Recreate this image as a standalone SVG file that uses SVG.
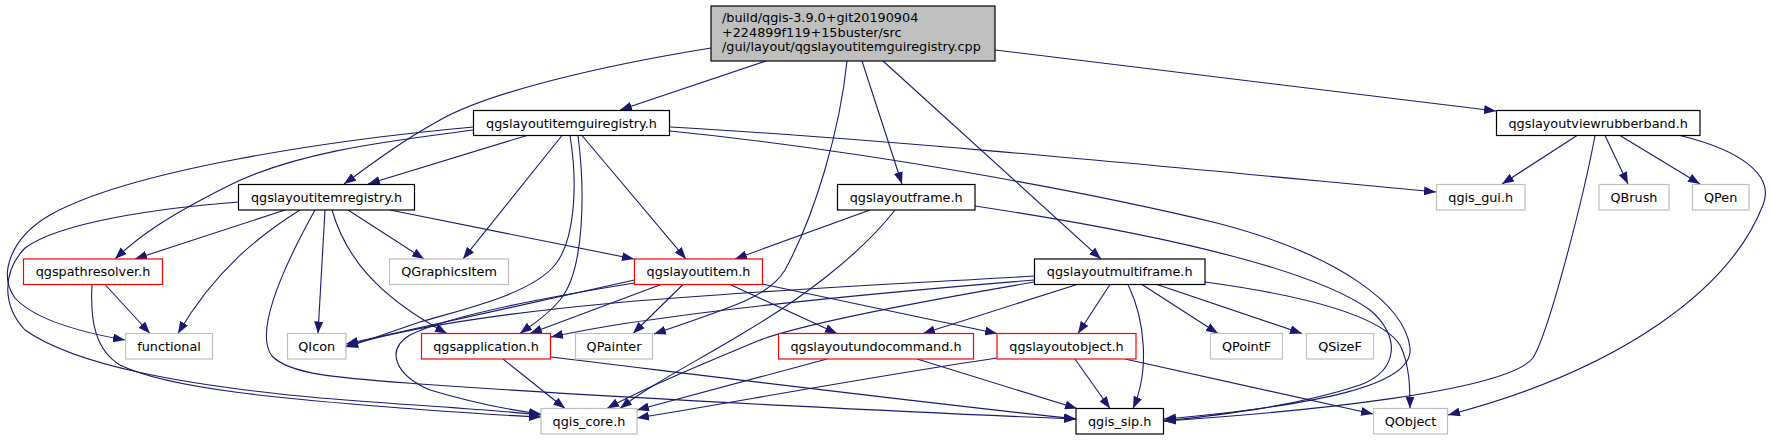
<svg xmlns="http://www.w3.org/2000/svg" width="1771" height="440" viewBox="0 0 1771 440">
<defs>
<marker id="ah" markerWidth="12" markerHeight="9" refX="12" refY="4.5" orient="auto" markerUnits="userSpaceOnUse">
<path d="M0,0 L12,4.5 L0,9 z" fill="#191970"/>
</marker>
<style>
.e{fill:none;stroke:#191970;stroke-width:1.1;marker-end:url(#ah)}
.n rect{fill:#fff;stroke:#000;stroke-width:1.2}
.r rect{fill:#fff;stroke:#ff0000;stroke-width:1.2}
.g rect{fill:#fff;stroke:#bfbfbf;stroke-width:1.2}
text{font-family:"DejaVu Sans","Liberation Sans",sans-serif;font-size:12.8px;fill:#000}
.c{text-anchor:middle}
</style>
</defs>
<rect width="1771" height="440" fill="#fff"/>
<g id="edges">
<path class="e" d="M711,48 C600,66 490,92 440,120 C400,142 370,165 344,184"/>
<path class="e" d="M766,61 L620,110"/>
<path class="e" d="M847,61 C840,130 815,215 785,270 C770,295 740,305 654,334"/>
<path class="e" d="M862,61 L902,184"/>
<path class="e" d="M883,61 L1101,259"/>
<path class="e" d="M995,50 L1496,111"/>
<path class="e" d="M527,135.5 L368,184"/>
<path class="e" d="M473.5,130 C400,140 300,150 230,185 C170,215 140,235 115,259"/>
<path class="e" d="M473.5,127 C330,140 130,170 50,215 C10,238 -2,275 15,298 C35,320 85,333 125,340"/>
<path class="e" d="M238.5,202 C160,208 60,222 25,248 C2,272 2,305 25,330 C75,365 180,385 320,398 C420,406 500,410 541,415"/>
<path class="e" d="M105,284.5 L150,333.5"/>
<path class="e" d="M92,284.5 C90,320 95,350 120,365 C170,390 300,400 400,408 C470,413 510,416 541,417"/>
<path class="e" d="M285,210 L135,259"/>
<path class="e" d="M300,210 C260,235 215,270 178,333.5"/>
<path class="e" d="M325,210 L318,333.5"/>
<path class="e" d="M332,210 C345,255 375,295 447,333.5"/>
<path class="e" d="M348,210 L424,259"/>
<path class="e" d="M390,210 L634,259"/>
<path class="e" d="M315,210 C290,255 252,330 272,356 C290,375 340,378 420,384 C650,400 950,414 1076,419"/>
<path class="e" d="M562,135.5 L463,259"/>
<path class="e" d="M570,135.5 C578,185 575,240 555,265 C530,295 460,310 420,322 C390,332 370,340 346,347"/>
<path class="e" d="M578,135.5 C585,190 585,270 560,300 C545,318 530,326 520,333.5"/>
<path class="e" d="M582,135.5 L686,259"/>
<path class="e" d="M670,127 C900,140 1200,170 1436,192"/>
<path class="e" d="M670,131 C860,150 1080,190 1217,223 C1340,255 1405,305 1410,348 C1414,385 1320,405 1164,419"/>
<path class="e" d="M975,206 C1100,225 1300,260 1370,310 C1400,335 1400,370 1360,385 C1300,405 1230,414 1164,421"/>
<path class="e" d="M870,210 L735,259"/>
<path class="e" d="M895,210 C860,255 800,300 740,335 C690,365 650,385 620,408.5"/>
<path class="e" d="M1034.5,276 C800,290 500,300 346,346"/>
<path class="e" d="M1034.5,280 C850,295 650,315 551,337"/>
<path class="e" d="M1034.5,282 C900,305 800,325 760,340 C700,365 640,390 607,408.5"/>
<path class="e" d="M1077,284.5 L923,333.5"/>
<path class="e" d="M1110,284.5 L1078,333.5"/>
<path class="e" d="M1128,284.5 C1145,320 1150,370 1133,408.5"/>
<path class="e" d="M1142,284.5 L1218,333.5"/>
<path class="e" d="M1157,284.5 L1302,333.5"/>
<path class="e" d="M1205,282 C1300,295 1380,315 1400,345 C1410,365 1410,390 1410,408.5"/>
<path class="e" d="M634.5,280 L346,344"/>
<path class="e" d="M634.5,283 C560,295 450,315 410,335 C385,350 395,375 430,390 C470,402 510,410 541,414"/>
<path class="e" d="M661,284.5 L530,333.5"/>
<path class="e" d="M683,284.5 L633,333.5"/>
<path class="e" d="M730,284.5 L837,333.5"/>
<path class="e" d="M762,284 L997,333.5"/>
<path class="e" d="M503,359 L565,408.5"/>
<path class="e" d="M550.5,357 C700,375 900,400 1076,419"/>
<path class="e" d="M827,359 L637,410"/>
<path class="e" d="M997,358 C850,380 720,405 637,418"/>
<path class="e" d="M917,359 L1077,408.5"/>
<path class="e" d="M1075,359 L1110,408.5"/>
<path class="e" d="M1125,359 L1373,414"/>
<path class="e" d="M1577,135.5 L1502,184"/>
<path class="e" d="M1605,135.5 L1628,184"/>
<path class="e" d="M1620,135.5 L1700,184"/>
<path class="e" d="M1595,135.5 C1585,190 1550,330 1533,358 C1505,392 1300,412 1164,421"/>
<path class="e" d="M1680,135.5 C1740,150 1775,175 1763,205 C1730,290 1620,370 1448,415"/>
</g>
<g id="main"><rect x="711" y="6" width="284" height="55" fill="#bfbfbf" stroke="#000" stroke-width="1.2"/>
<text x="722" y="22">/build/qgis-3.9.0+git20190904</text>
<text x="722" y="36.5">+224899f119+15buster/src</text>
<text x="722" y="51">/gui/layout/qgslayoutitemguiregistry.cpp</text></g>
<g id="guiregistry" class="n"><rect x="473.5" y="110.5" width="196" height="25"/><text class="c" x="571.5" y="127.5">qgslayoutitemguiregistry.h</text></g>
<g id="itemregistry" class="n"><rect x="238.5" y="184.5" width="176" height="25.5"/><text class="c" x="326.5" y="201.5">qgslayoutitemregistry.h</text></g>
<g id="layoutframe" class="n"><rect x="837.5" y="184.5" width="137.5" height="25.5"/><text class="c" x="906.2" y="201.5">qgslayoutframe.h</text></g>
<g id="rubberband" class="n"><rect x="1496.5" y="110.5" width="203.5" height="25"/><text class="c" x="1598.2" y="127.5">qgslayoutviewrubberband.h</text></g>
<g id="qgis_gui" class="g"><rect x="1436.5" y="184.5" width="88.5" height="25.5"/><text class="c" x="1480.7" y="201.5">qgis_gui.h</text></g>
<g id="QBrush" class="g"><rect x="1599" y="184.5" width="70" height="25.5"/><text class="c" x="1634" y="201.5">QBrush</text></g>
<g id="QPen" class="g"><rect x="1692.5" y="184.5" width="56.5" height="25.5"/><text class="c" x="1720.7" y="201.5">QPen</text></g>
<g id="pathresolver" class="r"><rect x="23.5" y="259" width="139" height="25.5"/><text class="c" x="93" y="276">qgspathresolver.h</text></g>
<g id="QGraphicsItem" class="g"><rect x="389.5" y="259" width="119" height="25.5"/><text class="c" x="449" y="276">QGraphicsItem</text></g>
<g id="layoutitem" class="r"><rect x="634.5" y="259" width="128" height="25.5"/><text class="c" x="698.5" y="276">qgslayoutitem.h</text></g>
<g id="multiframe" class="n"><rect x="1034.5" y="259" width="170.5" height="25.5"/><text class="c" x="1119.7" y="276">qgslayoutmultiframe.h</text></g>
<g id="functional" class="g"><rect x="125.5" y="333.5" width="87" height="25.5"/><text class="c" x="169" y="350.5">functional</text></g>
<g id="QIcon" class="g"><rect x="287.5" y="333.5" width="58.5" height="25.5"/><text class="c" x="316.7" y="350.5">QIcon</text></g>
<g id="application" class="r"><rect x="421.5" y="333.5" width="129" height="25.5"/><text class="c" x="486" y="350.5">qgsapplication.h</text></g>
<g id="QPainter" class="g"><rect x="575.5" y="333.5" width="77" height="25.5"/><text class="c" x="614" y="350.5">QPainter</text></g>
<g id="undocommand" class="r"><rect x="778.5" y="333.5" width="195" height="25.5"/><text class="c" x="876" y="350.5">qgslayoutundocommand.h</text></g>
<g id="layoutobject" class="r"><rect x="997" y="333.5" width="139" height="25.5"/><text class="c" x="1066.5" y="350.5">qgslayoutobject.h</text></g>
<g id="QPointF" class="g"><rect x="1210.5" y="333.5" width="72" height="25.5"/><text class="c" x="1246.5" y="350.5">QPointF</text></g>
<g id="QSizeF" class="g"><rect x="1306.5" y="333.5" width="67" height="25.5"/><text class="c" x="1340" y="350.5">QSizeF</text></g>
<g id="qgis_core" class="g"><rect x="541" y="408.5" width="96" height="25.5"/><text class="c" x="589" y="425.5">qgis_core.h</text></g>
<g id="qgis_sip" class="n"><rect x="1076" y="408.5" width="87.5" height="25.5"/><text class="c" x="1119.7" y="425.5">qgis_sip.h</text></g>
<g id="QObject" class="g"><rect x="1373.5" y="408.5" width="74" height="25.5"/><text class="c" x="1410.5" y="425.5">QObject</text></g>
</svg>
